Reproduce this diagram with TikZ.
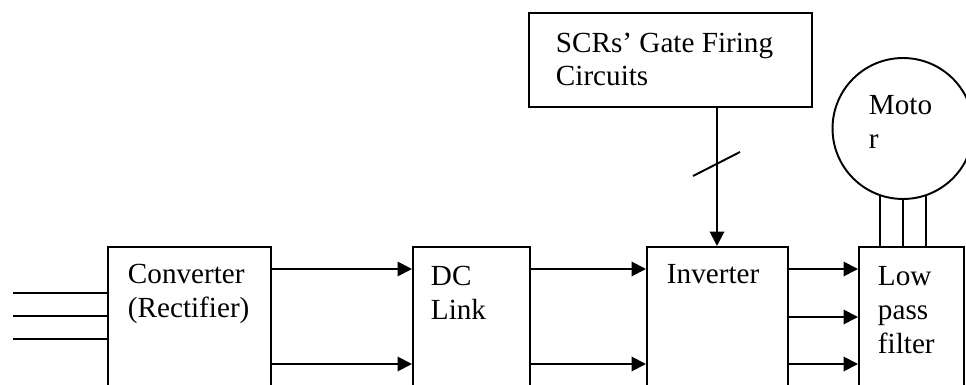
\documentclass[tikz,border=0pt]{standalone}
\usepackage{fontspec}
\setmainfont{Liberation Serif}
\usetikzlibrary{arrows.meta}

\tikzset{
  blk/.style={rectangle, draw, inner sep=0, anchor=north west, minimum height=3.6cm},
  lbl/.style={anchor=base west, align=left, inner sep=0, font=\fontsize{16.6}{19.3}\selectfont},
  arr/.style={-{Triangle[length=0.29cm, width=0.29cm]}}
}

\begin{document}
\begin{tikzpicture}[x=0.02cm, y=-0.02cm, line width=1.1pt]
\useasboundingbox (0,0) rectangle (966,385);
\clip (0,0) rectangle (966,385);

%%%  nodes

% block nodes
\node [blk, minimum width=3.26cm] (conv) at (107,246) {};
\node [blk, minimum width=2.34cm] (dclink) at (412,246) {};
\node [blk, minimum width=2.82cm] (inv) at (646,246) {};
\node [blk, minimum width=2.10cm] (filt) at (858,246) {};
\node [blk, minimum width=5.66cm, minimum height=1.88cm] (gate) at (528,12) {};
\node [circle, draw, inner sep=0, minimum size=2.82cm] (motor) at (903,128.5) {};

% text nodes (placed at the baseline of their last line)
\node [lbl] (convtext) at (127,317) {Converter\\(Rectifier)};
\node [lbl] (dctext) at (430,319) {DC\\Link};
\node [lbl] (invtext) at (666,283) {Inverter};
\node [lbl] (filttext) at (877,353) {Low\\pass\\filter};
\node [lbl] (gatetext) at (555,86) {SCRs’ Gate Firing\\Circuits};
\node [lbl] (motortext) at (868,148) {Moto\\r};

% supply nodes
\coordinate (in1) at (13,293);
\coordinate (in2) at (13,316);
\coordinate (in3) at (13,339);

%%% edges

% supply
\draw (in1) to (in1 -| conv.west);
\draw (in2) to (in2 -| conv.west);
\draw (in3) to (in3 -| conv.west);

% converter to dc link
\draw (conv.east |- 0,269) [arr] to (dclink.west |- 0,269);
\draw (conv.east |- 0,364) [arr] to (dclink.west |- 0,364);

% dc link to inverter
\draw (dclink.east |- 0,269) [arr] to (inv.west |- 0,269);
\draw (dclink.east |- 0,364) [arr] to (inv.west |- 0,364);

% inverter to filter
\draw (inv.east |- 0,269) [arr] to (filt.west |- 0,269);
\draw (inv.east |- 0,317) [arr] to (filt.west |- 0,317);
\draw (inv.east |- 0,364) [arr] to (filt.west |- 0,364);

% gate signals
\draw (gate.south -| 717,0) [arr] to (inv.north -| 717,0);
\draw (693,176) -- (740,152);

% motor
\draw (motor.-109) to (motor.-109 |- filt.north);
\draw (motor.south) to (filt.north -| motor.south);
\draw (motor.-71) to (motor.-71 |- filt.north);
\end{tikzpicture}
\end{document}
